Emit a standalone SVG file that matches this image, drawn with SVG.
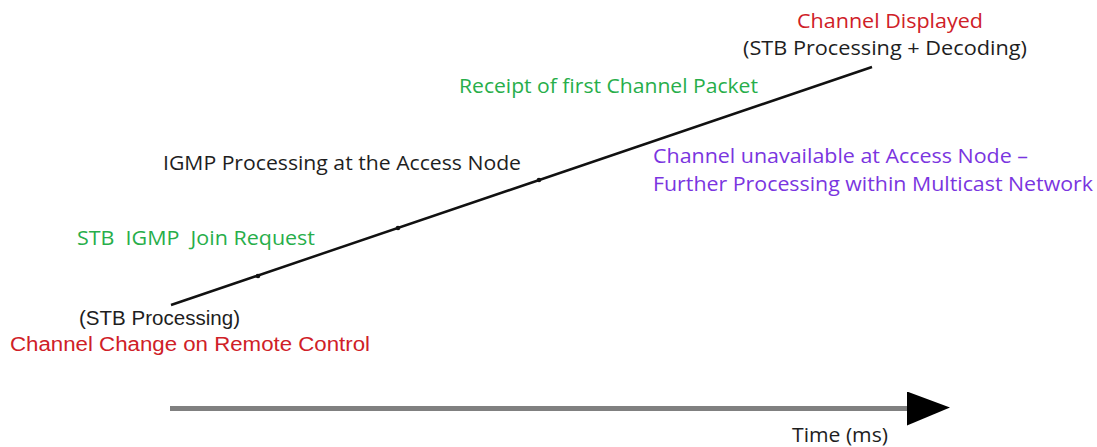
<svg xmlns="http://www.w3.org/2000/svg" width="1097" height="447" viewBox="0 0 1097 447">
<style>
text{font-family:"Open Sans","Noto Sans","Liberation Sans",sans-serif;font-size:20px;white-space:pre}
.tight{font-family:"Liberation Sans","Open Sans",sans-serif}
.red{fill:#cf2027}
.green{fill:#27ae4a}
.purple{fill:#7a35e0}
.black{fill:#1e1e1e}
</style>
<defs>
<marker id="tip" markerUnits="userSpaceOnUse" markerWidth="44" markerHeight="36" refX="0" refY="17" orient="auto" viewBox="0 0 44 36">
<path d="M0,0 L43,16 L0,34 Z" fill="#000"/>
</marker>
</defs>
<rect width="1097" height="447" fill="#fff"/>
<g id="connectors">
<line x1="171" y1="305" x2="872" y2="67" stroke="#111" stroke-width="2.5"/>
<circle cx="258" cy="276" r="2.3" fill="#111"/>
<circle cx="398" cy="228" r="2.3" fill="#111"/>
<circle cx="539" cy="180" r="2.3" fill="#111"/>
<line x1="170" y1="408.5" x2="907" y2="408.5" stroke="#808080" stroke-width="5" marker-end="url(#tip)"/>
</g>
<g id="channel-displayed">
<text class="red" x="797" y="28" textLength="186" lengthAdjust="spacingAndGlyphs">Channel Displayed</text>
<text class="black" x="743" y="55" textLength="284" lengthAdjust="spacingAndGlyphs">(STB Processing + Decoding)</text>
</g>
<g id="receipt">
<text class="green" x="459" y="93" textLength="299" lengthAdjust="spacingAndGlyphs">Receipt of first Channel Packet</text>
</g>
<g id="igmp-processing">
<text class="black" x="163" y="170" textLength="358" lengthAdjust="spacingAndGlyphs">IGMP Processing at the Access Node</text>
</g>
<g id="channel-unavailable">
<text class="purple" x="653" y="163" textLength="375" lengthAdjust="spacingAndGlyphs">Channel unavailable at Access Node –</text>
<text class="purple" x="653" y="191" textLength="440" lengthAdjust="spacingAndGlyphs">Further Processing within Multicast Network</text>
</g>
<g id="join-request">
<text class="green" x="77" y="245" textLength="238" lengthAdjust="spacingAndGlyphs">STB  IGMP  Join Request</text>
</g>
<g id="channel-change">
<text class="black tight" x="79" y="325" textLength="161" lengthAdjust="spacingAndGlyphs">(STB Processing)</text>
<text class="red tight" x="10" y="351" textLength="360" lengthAdjust="spacingAndGlyphs">Channel Change on Remote Control</text>
</g>
<g id="time-axis-label">
<text class="black" x="792" y="442" textLength="96" lengthAdjust="spacingAndGlyphs">Time (ms)</text>
</g>
</svg>
